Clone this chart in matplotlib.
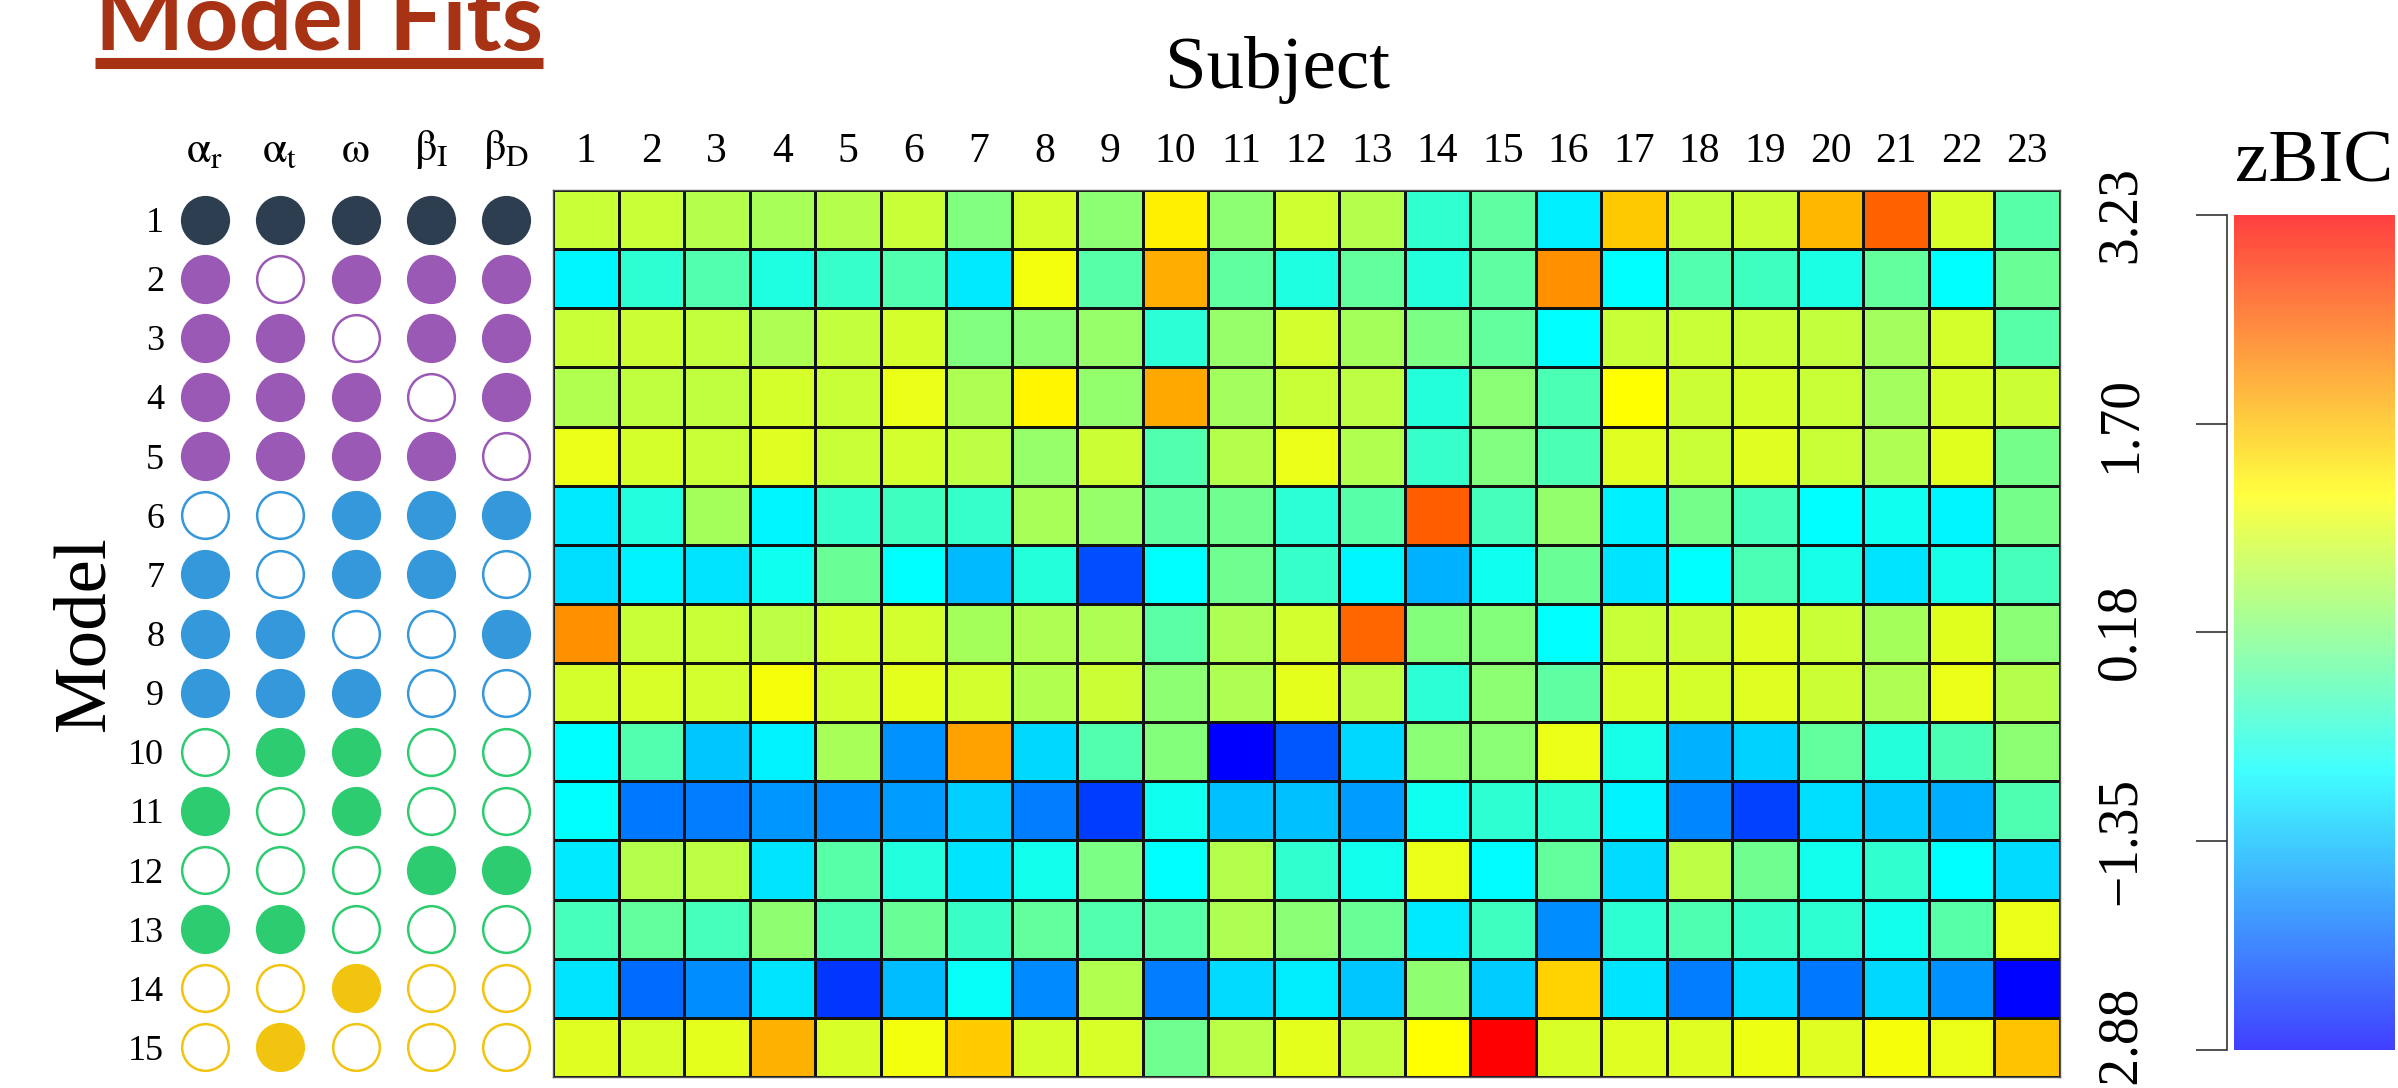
import numpy as np
import matplotlib
matplotlib.use("Agg")
import matplotlib.pyplot as plt
from matplotlib.colors import LinearSegmentedColormap
from matplotlib.lines import Line2D

plt.rcParams['font.family'] = ['Liberation Serif', 'DejaVu Serif']
plt.rcParams['mathtext.fontset'] = 'stix'

# ---- data ----
subjects = list(range(1, 24))
models = list(range(1, 16))
param_labels = [r'$\mathrm{\alpha_r}$', r'$\mathrm{\alpha_t}$', r'$\mathrm{\omega}$',
                r'$\mathrm{\beta_I}$', r'$\mathrm{\beta_D}$']

# which parameters are free (1) or fixed (0) in each model
model_params = [
    [1, 1, 1, 1, 1],
    [1, 0, 1, 1, 1],
    [1, 1, 0, 1, 1],
    [1, 1, 1, 0, 1],
    [1, 1, 1, 1, 0],
    [0, 0, 1, 1, 1],
    [1, 0, 1, 1, 0],
    [1, 1, 0, 0, 1],
    [1, 1, 1, 0, 0],
    [0, 1, 1, 0, 0],
    [1, 0, 1, 0, 0],
    [0, 0, 0, 1, 1],
    [1, 1, 0, 0, 0],
    [0, 0, 1, 0, 0],
    [0, 1, 0, 0, 0],
]
model_colors = ['#2c3e50'] + ['#9b59b6'] * 4 + ['#3498db'] * 4 + ['#2ecc71'] * 4 + ['#f1c40f'] * 2

# z-scored BIC, model x subject
zbic = np.array([
    [0.75, 0.75, 0.60, 0.50, 0.60, 0.75, 0.18, 0.85, 0.28, 1.30, 0.28, 0.80, 0.60, -0.45, -0.11, -0.96, 1.63, 0.72, 0.78, 1.76, 2.45, 0.88, -0.15],
    [-0.90, -0.47, -0.20, -0.60, -0.40, -0.20, -1.00, 1.10, -0.15, 1.83, -0.07, -0.60, -0.05, -0.55, -0.10, 2.08, -0.84, -0.20, -0.33, -0.62, -0.05, -0.84, 0.00],
    [0.75, 0.78, 0.72, 0.55, 0.72, 0.85, 0.18, 0.25, 0.35, -0.50, 0.35, 0.83, 0.48, 0.15, -0.05, -0.84, 0.75, 0.75, 0.75, 0.72, 0.45, 0.85, -0.15],
    [0.57, 0.68, 0.68, 0.85, 0.75, 1.02, 0.55, 1.25, 0.33, 1.87, 0.45, 0.75, 0.66, -0.55, 0.25, -0.25, 1.19, 0.78, 0.85, 0.75, 0.45, 0.85, 0.78],
    [1.02, 0.85, 0.75, 0.92, 0.75, 0.82, 0.66, 0.35, 0.78, -0.20, 0.60, 1.02, 0.57, -0.40, 0.18, -0.25, 0.92, 0.75, 0.92, 0.75, 0.55, 0.95, 0.08],
    [-1.00, -0.58, 0.48, -0.90, -0.40, -0.33, -0.40, 0.50, 0.35, -0.10, 0.05, -0.50, -0.15, 2.47, -0.28, 0.33, -0.96, 0.08, -0.28, -0.84, -0.73, -0.90, 0.08],
    [-1.10, -0.93, -1.05, -0.73, 0.00, -0.84, -1.40, -0.55, -2.24, -0.84, 0.05, -0.42, -0.90, -1.45, -0.73, 0.00, -1.05, -0.84, -0.25, -0.65, -1.05, -0.65, -0.30],
    [2.08, 0.75, 0.75, 0.66, 0.82, 0.82, 0.48, 0.55, 0.55, -0.12, 0.55, 0.84, 2.40, 0.22, 0.22, -0.84, 0.75, 0.78, 0.92, 0.75, 0.48, 0.95, 0.25],
    [0.85, 0.88, 0.82, 1.12, 0.82, 0.98, 0.82, 0.57, 0.78, 0.28, 0.55, 0.97, 0.66, -0.50, 0.28, -0.10, 0.88, 0.85, 0.92, 0.78, 0.55, 1.02, 0.60],
    [-0.84, -0.20, -1.30, -0.93, 0.50, -1.70, 1.92, -1.15, -0.20, 0.22, -2.88, -2.18, -1.15, 0.25, 0.25, 1.02, -0.65, -1.45, -1.20, -0.05, -0.55, -0.25, 0.28],
    [-0.84, -1.92, -1.86, -1.68, -1.75, -1.62, -1.22, -1.86, -2.40, -0.73, -1.33, -1.35, -1.63, -0.73, -0.47, -0.47, -0.93, -1.80, -2.35, -1.10, -1.28, -1.48, -0.22],
    [-1.00, 0.60, 0.66, -1.05, -0.15, -0.58, -1.05, -0.70, 0.15, -0.84, 0.60, -0.45, -0.70, 1.02, -0.86, -0.05, -1.12, 0.66, 0.05, -0.70, -0.45, -0.84, -1.12],
    [-0.28, -0.05, -0.28, 0.30, -0.22, 0.00, -0.38, -0.05, -0.20, -0.15, 0.55, 0.27, 0.00, -1.00, -0.33, -1.75, -0.47, -0.22, -0.38, -0.47, -0.70, -0.15, 1.02],
    [-1.05, -2.00, -1.75, -1.05, -2.45, -1.36, -0.78, -1.78, 0.57, -1.86, -1.12, -0.98, -1.30, 0.30, -1.25, 1.55, -1.05, -1.86, -1.12, -1.92, -1.15, -1.70, -2.85],
    [0.92, 0.88, 0.98, 1.80, 0.88, 1.10, 1.60, 0.85, 0.88, 0.05, 0.63, 0.98, 0.72, 1.19, 3.23, 0.88, 0.92, 0.92, 1.05, 0.92, 1.12, 1.02, 1.66],
])
zbic_ticks = [3.23, 1.70, 0.18, -1.35, -2.88]
zbic_ticklabels = ['3.23', '1.70', '0.18', '\u22121.35', '\u22122.88']
vmin, vmax = min(zbic_ticks), max(zbic_ticks)

cmap = LinearSegmentedColormap.from_list('bcyr', ['#0000ff', '#00ffff', '#ffff00', '#ff0000'])

# ---- figure, laid out in pixels ----
W, H = 2398, 1088
fig = plt.figure(figsize=(W / 100, H / 100), dpi=100)


def px_axes(x0, y0, x1, y1):
    return fig.add_axes([x0 / W, 1 - y1 / H, (x1 - x0) / W, (y1 - y0) / H])


# heatmap
ax = px_axes(553, 190, 2060, 1077)
ax.pcolormesh(np.arange(0.5, 24), np.arange(0.5, 16), zbic, cmap=cmap, vmin=vmin, vmax=vmax,
              edgecolors='#111111', linewidth=1.0)
ax.set_xlim(0.5, 23.5)
ax.set_ylim(15.5, 0.5)
ax.xaxis.tick_top()
ax.set_xticks(subjects)
ax.set_xticklabels([str(s) for s in subjects], fontsize=30)
ax.set_yticks([])
ax.tick_params(axis='x', length=0, pad=14)
for sp in ax.spines.values():
    sp.set_color('#555555')
    sp.set_linewidth(1.0)

# model specification dots
axc = px_axes(167, 190, 544, 1077)
for i, row in enumerate(model_params):
    for j, on in enumerate(row):
        axc.scatter(j, models[i], s=1130, marker='o',
                    facecolor=model_colors[i] if on else 'white',
                    edgecolor=model_colors[i], linewidth=1.8, zorder=3)
axc.set_xlim(-0.5, 4.5)
axc.set_ylim(15.5, 0.5)
axc.xaxis.tick_top()
axc.set_xticks(range(len(param_labels)))
axc.set_xticklabels(param_labels, fontsize=32)
axc.set_yticks(models)
axc.set_yticklabels([str(m) for m in models], fontsize=26)
axc.tick_params(length=0)
axc.tick_params(axis='x', pad=14)
axc.tick_params(axis='y', pad=2)
for sp in axc.spines.values():
    sp.set_visible(False)

# colour scale
cax = px_axes(2234, 215, 2395, 1050)
for side in ['top', 'right', 'bottom']:
    cax.spines[side].set_visible(False)
cax.spines['left'].set_position(('outward', 5))
cax.spines['left'].set_linewidth(1.2)
cax.spines['left'].set_color('#333333')
cax.imshow(np.linspace(vmin, vmax, 256).reshape(-1, 1), cmap=cmap, aspect='auto',
           origin='lower', extent=(0, 1, vmin, vmax), alpha=0.75)
cax.set_xlim(0, 1)
cax.set_ylim(vmin, vmax)
cax.set_xticks([])
cax.set_yticks(zbic_ticks)
cax.set_yticklabels(zbic_ticklabels, fontsize=40, rotation=90, va='center')
cax.tick_params(axis='y', length=22, width=1.2, pad=36, color='#333333')
cax.set_title('zBIC', fontsize=54, pad=24)

# axis titles
fig.text(1278 / W, 1 - 88 / H, 'Subject', ha='center', va='baseline', fontsize=54)
fig.text(86 / W, 1 - 633 / H, 'Model', ha='center', va='center', rotation=90, fontsize=54)

# slide heading with underline
title = fig.text(95 / W, 1 - 50 / H, 'Model Fits', ha='left', va='baseline', fontsize=68,
                 fontweight='bold', color='#a83214', family=['Lato', 'DejaVu Sans'])
bb = title.get_window_extent(fig.canvas.get_renderer())
fig.add_artist(Line2D([bb.x0 / W, bb.x1 / W], [1 - 63 / H, 1 - 63 / H],
                      transform=fig.transFigure, color='#a83214', linewidth=8,
                      solid_capstyle='butt'))

fig.savefig('out.png', dpi=100)
